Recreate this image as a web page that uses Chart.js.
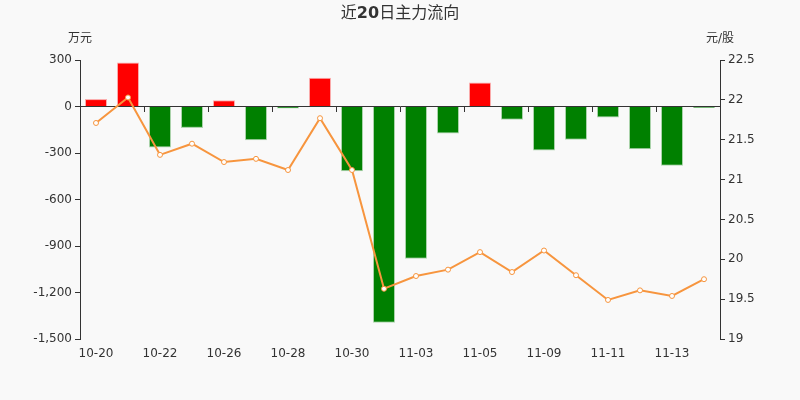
<!DOCTYPE html>
<html>
<head>
<meta charset="utf-8">
<script src="https://cdn.jsdelivr.net/npm/chart.js@4/dist/chart.umd.min.js"></script>
<style>
    html, body { margin: 0; padding: 0; background: #f9f9f9; }
    #wrap { width: 800px; height: 400px; }
</style>
</head>
<body>
<div id="wrap"><canvas id="flow-chart" width="800" height="400"></canvas></div>
<script>
// Dates (trading days)
const dates = ['10-20', '10-21', '10-22', '10-23', '10-26', '10-27', '10-28', '10-29', '10-30', '11-02',
    '11-03', '11-04', '11-05', '11-06', '11-09', '11-10', '11-11', '11-12', '11-13', '11-16'];

// Main capital flow, 万元
const flows = [48, 284, -265, -138, 40, -217, -13, 185, -417, -1395,
    -983, -174, 155, -86, -284, -215, -71, -276, -382, -9];

// Closing price, 元/股
const prices = [21.71, 22.03, 21.31, 21.45, 21.22, 21.26, 21.12, 21.77, 21.12, 19.63,
    19.79, 19.87, 20.09, 19.84, 20.11, 19.80, 19.49, 19.61, 19.54, 19.75];

const flowTicks = { min: -1500, max: 300, step: 300 };
const priceTicks = { min: 19, max: 22.5, step: 0.5 };

// Title pieces: [text, bold]
const titleParts = [['近', false], ['20', true], ['日主力流向', false]];

const textColor = '#333';
const lineColor = '#f7953e';
const fontFamily = '"DejaVu Sans", "Noto Sans CJK SC", sans-serif';

// Background, title and axis unit labels
const decorPlugin = {
    id: 'decor',
    beforeDraw: function(chart) {
        const c = chart.ctx;
        c.save();
        c.fillStyle = '#f9f9f9';
        c.fillRect(0, 0, chart.width, chart.height);
        c.restore();
    },
    afterDraw: function(chart) {
        const c = chart.ctx;
        const area = chart.chartArea;
        c.save();
        c.fillStyle = textColor;
        c.textBaseline = 'middle';

        // title, mixed weights
        const fontFor = function(bold) {
            return (bold ? 'bold ' : '') + '16px ' + fontFamily;
        };
        let total = 0;
        titleParts.forEach(function(p) {
            c.font = fontFor(p[1]);
            total += c.measureText(p[0]).width;
        });
        let x = chart.width / 2 - total / 2;
        c.textAlign = 'left';
        titleParts.forEach(function(p) {
            c.font = fontFor(p[1]);
            c.fillText(p[0], x, 14);
            x += c.measureText(p[0]).width;
        });

        c.font = '12px ' + fontFamily;
        c.textAlign = 'center';
        c.fillText('万元', area.left, 39);
        c.fillText('元/股', area.right, 39);
        c.restore();
    }
};

const ctx = document.getElementById('flow-chart');

new Chart(ctx, {
    data: {
        labels: dates,
        datasets: [{
            type: 'line',
            label: '价格',
            data: prices,
            yAxisID: 'y1',
            xAxisID: 'x',
            order: 0,
            borderColor: lineColor,
            borderWidth: 2,
            tension: 0,
            pointRadius: 2.5,
            pointBorderWidth: 1,
            pointBackgroundColor: '#fff',
            pointBorderColor: lineColor
        }, {
            type: 'bar',
            label: '主力流向',
            data: flows,
            yAxisID: 'y',
            xAxisID: 'x',
            order: 1,
            backgroundColor: function(context) {
                return context.raw >= 0 ? '#ff0000' : '#008000';
            },
            borderColor: function(context) {
                return context.raw >= 0 ? 'rgba(255, 0, 0, 0.3)' : 'rgba(0, 128, 0, 0.3)';
            },
            borderWidth: 1,
            barPercentage: 0.69,
            categoryPercentage: 1
        }]
    },
    options: {
        responsive: false,
        animation: false,
        layout: { padding: { top: 60 } },
        plugins: {
            legend: { display: false },
            tooltip: { enabled: false },
            title: { display: false }
        },
        scales: {
            x: {
                type: 'category',
                position: 'bottom',
                offset: true,
                border: { display: false },
                grid: { display: false, drawTicks: false },
                ticks: {
                    autoSkip: false,
                    maxRotation: 0,
                    padding: 8,
                    color: textColor,
                    font: { family: '"DejaVu Sans", sans-serif', size: 12 },
                    callback: function(value, index) {
                        return index % 2 === 0 ? this.getLabelForValue(value) : '';
                    }
                },
                afterFit: function(scale) { scale.height = 61; }
            },
            xZero: {
                type: 'category',
                position: { y: 0 },
                offset: true,
                border: { display: true, color: textColor, width: 1 },
                grid: {
                    offset: true,
                    drawOnChartArea: false,
                    drawTicks: true,
                    tickLength: 5,
                    color: function(context) {
                        return context.index % 2 === 0 ? textColor : 'rgba(0,0,0,0)';
                    }
                },
                ticks: { display: false },
                afterFit: function(scale) { scale.height = 0; }
            },
            y: {
                position: 'left',
                min: flowTicks.min,
                max: flowTicks.max,
                border: { display: true, color: textColor, width: 1 },
                grid: { drawOnChartArea: false, tickLength: 5, color: textColor },
                ticks: {
                    stepSize: flowTicks.step,
                    padding: 3,
                    color: textColor,
                    font: { family: '"DejaVu Sans", sans-serif', size: 12 }
                },
                afterFit: function(scale) { scale.width = 80; }
            },
            y1: {
                position: 'right',
                min: priceTicks.min,
                max: priceTicks.max,
                border: { display: true, color: textColor, width: 1 },
                grid: { drawOnChartArea: false, tickLength: 5, color: textColor },
                ticks: {
                    stepSize: priceTicks.step,
                    padding: 3,
                    color: textColor,
                    font: { family: '"DejaVu Sans", sans-serif', size: 12 },
                    callback: function(value) {
                        return String(value);
                    }
                },
                afterFit: function(scale) { scale.width = 80; }
            }
        }
    },
    plugins: [decorPlugin]
});
</script>
</body>
</html>
